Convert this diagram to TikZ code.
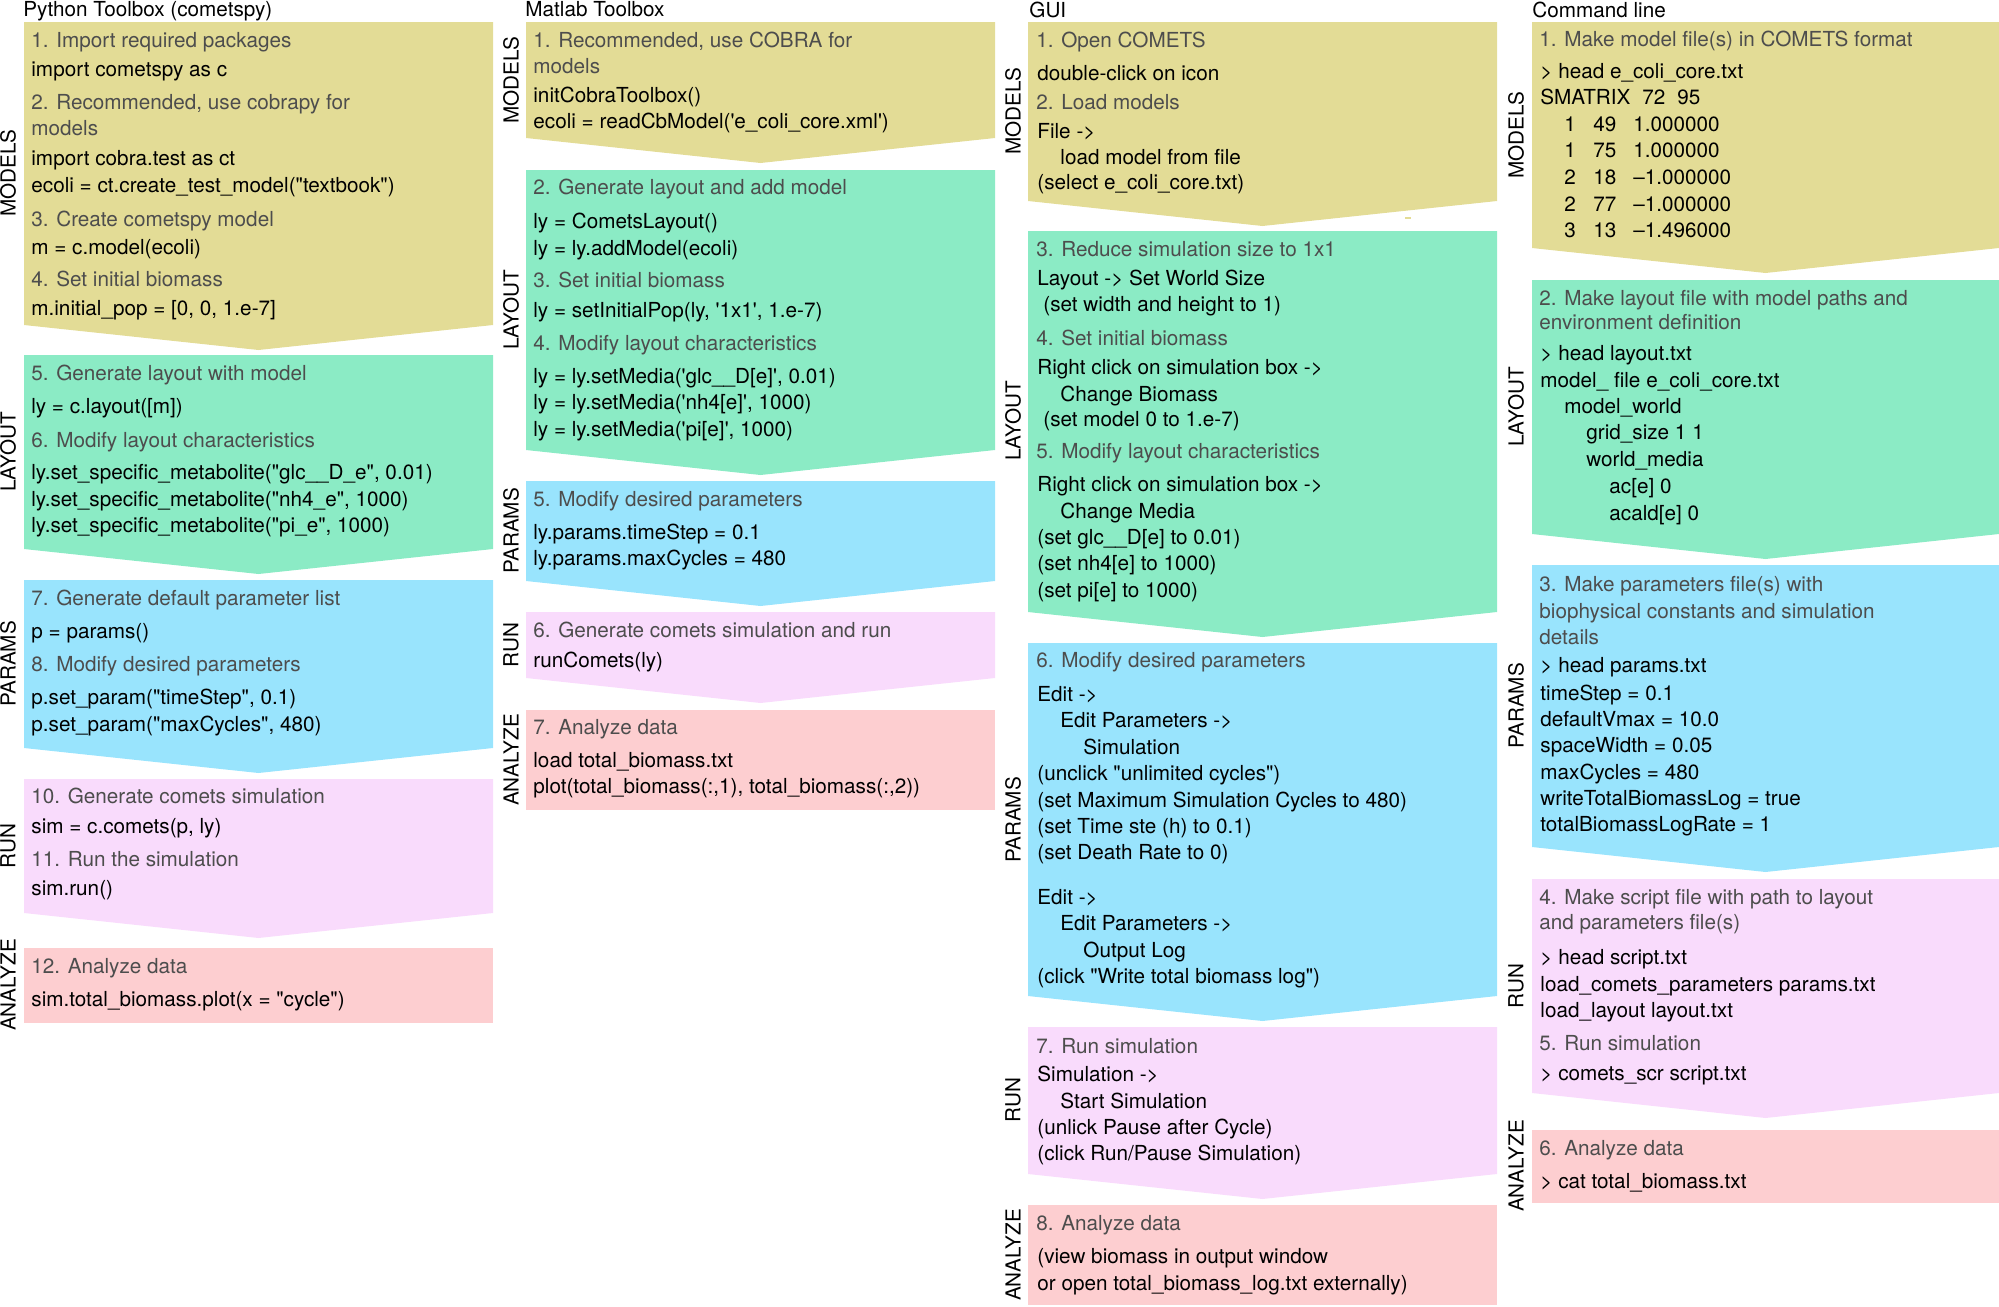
\documentclass[tikz,border=0pt]{standalone}
\usepackage{fontspec}
\setmainfont{TeX Gyre Heros}[Ligatures=TeXOff]
\definecolor{modelsfill}{RGB}{227,220,150}
\definecolor{layoutfill}{RGB}{139,235,197}
\definecolor{paramsfill}{RGB}{153,228,253}
\definecolor{runfill}{RGB}{249,219,252}
\definecolor{analyzefill}{RGB}{253,206,208}
\definecolor{headgrey}{RGB}{77,77,77}
% left, right, top, bottom of the sides, colour
\newcommand{\chevstep}[5]{\fill[#5] (#1,#3) -- (#2,#3) -- (#2,#4) -- ({(#1+#2)/2},{#4+25}) -- (#1,#4) -- cycle;}
\newcommand{\flatstep}[5]{\fill[#5] (#1,#3) rectangle (#2,#4);}
\newcommand{\smrow}[3]{\makebox[14.5pt][l]{#1}\makebox[20pt][l]{#2}#3}
\begin{document}
\begin{tikzpicture}[x=0.5pt, y=-0.5pt,
    txt/.style={anchor=base west, inner sep=0pt, font=\fontsize{10.35pt}{13pt}\selectfont},
    head/.style={txt, text=headgrey},
    lane/.style={rotate=90, inner sep=0pt, font=\fontsize{10.35pt}{13pt}\selectfont}]
\useasboundingbox (0,0) rectangle (1999,1307);

% Python toolbox
\node[txt] (pytitle) at (23,16) {Python Toolbox (cometspy)};
\chevstep{24}{493}{22}{325}{modelsfill}
\chevstep{24}{493}{355}{549}{layoutfill}
\chevstep{24}{493}{580}{748}{paramsfill}
\chevstep{24}{493}{779}{913}{runfill}
\flatstep{24}{493}{948}{1023}{analyzefill}
\foreach \y/\t in {47/{1. Import required packages}, 109/{2. Recommended, use cobrapy for}, 135/models,
    226/{3. Create cometspy model}, 286/{4. Set initial biomass}, 380/{5. Generate layout with model},
    447/{6. Modify layout characteristics}, 605/{7. Generate default parameter list},
    671/{8. Modify desired parameters}, 803/{10. Generate comets simulation},
    866/{11. Run the simulation}, 973/{12. Analyze data}}
  \node[head] (py-h\y) at (31,\y) {\t};
\foreach \y/\t in {76/{import cometspy as c}, 165/{import cobra.test as ct},
    192/{ecoli = ct.create\_test\_model("textbook")}, 254/{m = c.model(ecoli)},
    315/{m.initial\_pop = [0, 0, 1.e-7]}, 413/{ly = c.layout([m])},
    479/{ly.set\_specific\_metabolite("glc\_\_D\_e", 0.01)},
    506/{ly.set\_specific\_metabolite("nh4\_e", 1000)},
    532/{ly.set\_specific\_metabolite("pi\_e", 1000)}, 638/{p = params()},
    704/{p.set\_param("timeStep", 0.1)}, 731/{p.set\_param("maxCycles", 480)},
    833/{sim = c.comets(p, ly)}, 895/{sim.run()}, 1006/{sim.total\_biomass.plot(x = "cycle")}}
  \node[txt] (py-c\y) at (31,\y) {\t};
\foreach \y/\t in {173/MODELS, 452/LAYOUT, 664/PARAMS, 846/RUN, 985/ANALYZE}
  \node[lane] (py-l\y) at (8,\y) {\t};

% Matlab toolbox
\node[txt] (mltitle) at (525,16) {Matlab Toolbox};
\chevstep{526}{995}{22}{138}{modelsfill}
\chevstep{526}{995}{170}{450}{layoutfill}
\chevstep{526}{995}{481}{581}{paramsfill}
\chevstep{526}{995}{612}{678}{runfill}
\flatstep{526}{995}{710}{810}{analyzefill}
\foreach \y/\t in {47/{1. Recommended, use COBRA for}, 73/models, 194/{2. Generate layout and add model},
    287/{3. Set initial biomass}, 350/{4. Modify layout characteristics},
    506/{5. Modify desired parameters}, 637/{6. Generate comets simulation and run},
    734/{7. Analyze data}}
  \node[head] (ml-h\y) at (533,\y) {\t};
\foreach \y/\t in {102/{initCobraToolbox()}, 128/{ecoli = readCbModel('e\_coli\_core.xml')},
    228/{ly = CometsLayout()}, 255/{ly = ly.addModel(ecoli)}, 317/{ly = setInitialPop(ly, '1x1', 1.e-7)},
    383/{ly = ly.setMedia('glc\_\_D[e]', 0.01)}, 409/{ly = ly.setMedia('nh4[e]', 1000)},
    436/{ly = ly.setMedia('pi[e]', 1000)}, 539/{ly.params.timeStep = 0.1},
    565/{ly.params.maxCycles = 480}, 667/{runComets(ly)}, 767/{load total\_biomass.txt},
    793/{plot(total\_biomass(:,1), total\_biomass(:,2))}}
  \node[txt] (ml-c\y) at (533,\y) {\t};
\foreach \y/\t in {80/MODELS, 310/LAYOUT, 531/PARAMS, 645/RUN, 760/ANALYZE}
  \node[lane] (ml-l\y) at (511,\y) {\t};

% GUI
\node[txt] (guititle) at (1029,17) {GUI};
\chevstep{1028}{1497}{22}{201}{modelsfill}
\fill[modelsfill] (1405,217) rectangle (1411,219);
\chevstep{1028}{1497}{231}{612}{layoutfill}
\chevstep{1028}{1497}{643}{996}{paramsfill}
\chevstep{1028}{1497}{1027}{1174}{runfill}
\flatstep{1028}{1497}{1205}{1305}{analyzefill}
\foreach \y/\t in {47/{1. Open COMETS}, 109/{2. Load models}, 256/{3. Reduce simulation size to 1x1},
    345/{4. Set initial biomass}, 458/{5. Modify layout characteristics},
    667/{6. Modify desired parameters}, 1053/{7. Run simulation}, 1230/{8. Analyze data}}
  \node[head] (gui-h\y) at (1036,\y) {\t};
\foreach \x/\y/\t in {1037/80/{double-click on icon}, 1037/138/{File ->}, 1060/164/{load model from file},
    1037/189/{(select e\_coli\_core.txt)}, 1037/285/{Layout -> Set World Size},
    1043/311/{(set width and height to 1)}, 1037/374/{Right click on simulation box ->},
    1060/401/{Change Biomass}, 1043/426/{(set model 0 to 1.e-7)},
    1037/491/{Right click on simulation box ->}, 1060/518/{Change Media},
    1037/544/{(set glc\_\_D[e] to 0.01)}, 1037/570/{(set nh4[e] to 1000)}, 1037/597/{(set pi[e] to 1000)},
    1037/701/{Edit ->}, 1060/727/{Edit Parameters ->}, 1083/754/{Simulation},
    1037/780/{(unclick "unlimited cycles")}, 1037/807/{(set Maximum Simulation Cycles to 480)},
    1037/833/{(set Time ste (h) to 0.1)}, 1037/859/{(set Death Rate to 0)},
    1037/904/{Edit ->}, 1060/930/{Edit Parameters ->}, 1083/957/{Output Log},
    1037/983/{(click "Write total biomass log")}, 1037/1081/{Simulation ->},
    1060/1108/{Start Simulation}, 1037/1134/{(unlick Pause after Cycle)},
    1037/1160/{(click Run/Pause Simulation)}, 1037/1263/{(view biomass in output window},
    1037/1290/{or open total\_biomass\_log.txt externally)}}
  \node[txt] (gui-c\y) at (\x,\y) {\t};
\foreach \y/\t in {111/MODELS, 421/LAYOUT, 820/PARAMS, 1100/RUN, 1255/ANALYZE}
  \node[lane] (gui-l\y) at (1013,\y) {\t};

% Command line
\node[txt] (cltitle) at (1532,17) {Command line};
\chevstep{1532}{1999}{22}{248}{modelsfill}
\chevstep{1532}{1999}{280}{534}{layoutfill}
\chevstep{1532}{1999}{565}{847}{paramsfill}
\chevstep{1532}{1999}{879}{1093}{runfill}
\flatstep{1532}{1999}{1130}{1203}{analyzefill}
\foreach \y/\t in {46/{1. Make model file(s) in COMETS format}, 305/{2. Make layout file with model paths and},
    329/{environment definition}, 591/{3. Make parameters file(s) with},
    618/{biophysical constants and simulation}, 644/details,
    904/{4. Make script file with path to layout}, 929/{and parameters file(s)},
    1050/{5. Run simulation}, 1155/{6. Analyze data}}
  \node[head] (cl-h\y) at (1539,\y) {\t};
\foreach \x/\y/\t in {1540/78/{> head e\_coli\_core.txt}, 1540/104/{SMATRIX\hspace{6pt}72\hspace{6pt}95},
    1564/131/{\smrow{1}{49}{1.000000}}, 1564/157/{\smrow{1}{75}{1.000000}},
    1564/184/{\smrow{2}{18}{–1.000000}}, 1564/211/{\smrow{2}{77}{–1.000000}},
    1564/237/{\smrow{3}{13}{–1.496000}},
    1540/360/{> head layout.txt}, 1540/387/{model\_ file e\_coli\_core.txt}, 1564/413/{model\_world},
    1586/439/{grid\_size 1 1}, 1586/466/{world\_media}, 1609/493/{ac[e] 0}, 1609/520/{acald[e] 0},
    1540/672/{> head params.txt}, 1540/700/{timeStep = 0.1}, 1540/726/{defaultVmax = 10.0},
    1540/752/{spaceWidth = 0.05}, 1540/779/{maxCycles = 480}, 1540/805/{writeTotalBiomassLog = true},
    1540/831/{totalBiomassLogRate = 1}, 1540/964/{> head script.txt},
    1540/991/{load\_comets\_parameters params.txt}, 1540/1017/{load\_layout layout.txt},
    1540/1080/{> comets\_scr script.txt}, 1540/1188/{> cat total\_biomass.txt}}
  \node[txt] (cl-c\y) at (\x,\y) {\t};
\foreach \y/\t in {135/MODELS, 407/LAYOUT, 706/PARAMS, 986/RUN, 1166/ANALYZE}
  \node[lane] (cl-l\y) at (1516,\y) {\t};
\end{tikzpicture}
\end{document}
